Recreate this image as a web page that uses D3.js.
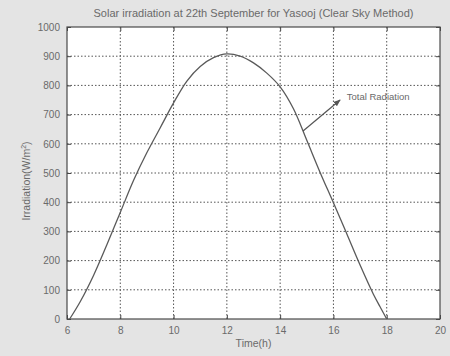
<!DOCTYPE html>
<html><head><meta charset="utf-8">
<script src="https://cdn.jsdelivr.net/npm/d3@7"></script>
<style>
html,body{margin:0;padding:0;background:#e4e4e4;}
svg{display:block;font-family:Arial,"Liberation Sans",sans-serif;}
</style></head>
<body>
<svg id="c" width="450" height="356"></svg>
<script>
const hours = [6.1,6.5,7,7.5,8,8.5,9,9.5,10,10.5,11,11.5,12,12.5,13,13.5,14,14.5,15,15.5,16,16.5,17,17.5,17.75,18];
const irradiation = [0,60,150,255,365,475,570,655,740,815,865,895,908,900,877,842,795,720,612,502,398,292,185,85,42,0];
const xTicks = [6,8,10,12,14,16,18,20];
const yTicks = [0,100,200,300,400,500,600,700,800,900,1000];
const title = "Solar irradiation at 22th September for Yasooj (Clear Sky Method)";
const xLabel = "Time(h)";
const seriesLabel = "Total Radiation";

const svg = d3.select("#c");
const m = {l:67, r:440, t:27, b:319};
const x = d3.scaleLinear().domain([6,20]).range([m.l, m.r]);
const y = d3.scaleLinear().domain([0,1000]).range([m.b, m.t]);
const txt = "#6a6a6a";

svg.append("rect").attr("x",m.l).attr("y",m.t).attr("width",m.r-m.l).attr("height",m.b-m.t).attr("fill","#fff");

// grid
const g = svg.append("g");
g.selectAll(".gx").data(xTicks.slice(1,-1)).join("line")
 .attr("x1",d=>x(d)).attr("x2",d=>x(d)).attr("y1",m.t).attr("y2",m.b)
 .attr("stroke","#555").attr("stroke-width",1).attr("stroke-dasharray","1.5,2");
g.selectAll(".gy").data(yTicks.slice(1,-1)).join("line")
 .attr("y1",d=>y(d)).attr("y2",d=>y(d)).attr("x1",m.l).attr("x2",m.r)
 .attr("stroke","#555").attr("stroke-width",1).attr("stroke-dasharray","1.5,2");

// axes
const fmt = d3.format("d");
const xa = svg.append("g").attr("transform",`translate(0,${m.b})`)
 .call(d3.axisBottom(x).tickValues(xTicks).tickFormat(fmt).tickSizeInner(-4).tickSizeOuter(0).tickPadding(8));
const ya = svg.append("g").attr("transform",`translate(${m.l},0)`)
 .call(d3.axisLeft(y).tickValues(yTicks).tickFormat(fmt).tickSizeInner(-4).tickSizeOuter(0).tickPadding(7));
[xa,ya].forEach(a=>{
  a.selectAll("text").attr("fill",txt).style("font-size","10px");
  a.selectAll("line").attr("stroke","#444");
  a.select(".domain").attr("stroke","none");
});
svg.append("g").attr("transform",`translate(0,${m.t})`)
 .call(d3.axisTop(x).tickValues(xTicks).tickSizeInner(-4).tickSizeOuter(0).tickFormat(""))
 .call(a=>{a.select(".domain").attr("stroke","none");a.selectAll("line").attr("stroke","#444");});
svg.append("g").attr("transform",`translate(${m.r},0)`)
 .call(d3.axisRight(y).tickValues(yTicks).tickSizeInner(-4).tickSizeOuter(0).tickFormat(""))
 .call(a=>{a.select(".domain").attr("stroke","none");a.selectAll("line").attr("stroke","#444");});

svg.append("rect").attr("x",m.l).attr("y",m.t).attr("width",m.r-m.l).attr("height",m.b-m.t)
 .attr("fill","none").attr("stroke","#4a4a4a").attr("stroke-width",1.2);

// curve
const line = d3.line().x((d,i)=>x(hours[i])).y(d=>y(d)).curve(d3.curveCatmullRom.alpha(0.5));
svg.append("path").datum(irradiation).attr("d",line).attr("fill","none")
 .attr("stroke","#5a5a5a").attr("stroke-width",1.3);

// arrow annotation
svg.append("defs").append("marker").attr("id","ah").attr("viewBox","0 0 10 10")
 .attr("refX",9).attr("refY",5).attr("markerWidth",6).attr("markerHeight",6).attr("orient","auto")
 .append("path").attr("d","M0,1 L10,5 L0,9 Z").attr("fill","#555");
svg.append("line").attr("x1",x(14.86)).attr("y1",y(644)).attr("x2",x(16.25)).attr("y2",y(750))
 .attr("stroke","#555").attr("stroke-width",1.2).attr("marker-end","url(#ah)");
svg.append("text").attr("x",x(16.5)).attr("y",y(760)).attr("dy","0.35em")
 .attr("fill",txt).style("font-size","9.5px").text(seriesLabel);

// titles
svg.append("text").attr("x",(m.l+m.r)/2).attr("y",17).attr("text-anchor","middle")
 .attr("fill",txt).style("font-size","11px").text(title);
svg.append("text").attr("x",(m.l+m.r)/2).attr("y",347).attr("text-anchor","middle")
 .attr("fill",txt).style("font-size","10.5px").text(xLabel);
const yl = svg.append("text").attr("transform",`translate(30,${(m.t+m.b)/2+8}) rotate(-90)`)
 .attr("text-anchor","middle").attr("fill",txt).style("font-size","10.5px");
yl.append("tspan").text("Irradiation(W/m");
yl.append("tspan").attr("dy","-4").style("font-size","7px").text("2");
yl.append("tspan").attr("dy","4").text(")");
</script>
</body></html>
